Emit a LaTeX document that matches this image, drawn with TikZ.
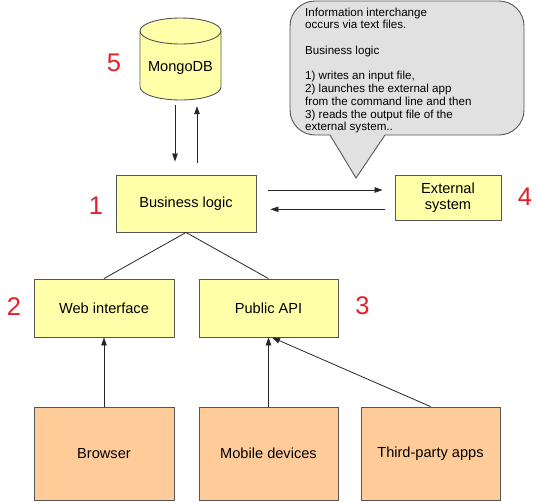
\documentclass[tikz,border=0pt]{standalone}
\usepackage{fontspec}
\setmainfont{Liberation Sans}
\usetikzlibrary{arrows.meta}
\definecolor{boxyellow}{HTML}{FFFFAA}
\definecolor{boxorange}{HTML}{FFCC99}
\definecolor{bubblegray}{HTML}{E1E1E1}
\definecolor{edgegray}{HTML}{555555}
\definecolor{numred}{HTML}{E3202A}
\begin{document}
\begin{tikzpicture}[x=1pt,y=-1pt,
  ybox/.style={draw=edgegray, fill=boxyellow, line width=0.9pt, inner sep=0pt,
    font=\fontsize{14.6}{16}\selectfont, align=center},
  obox/.style={ybox, fill=boxorange},
  num/.style={text=numred, font=\fontsize{25.5}{25.5}\selectfont, inner sep=0pt},
  conn/.style={draw=black!85, line width=0.8pt},
  arr/.style={conn, -{Triangle[length=8pt,width=5.5pt]}}]
\useasboundingbox (0,0) rectangle (540,501);

% callout
\filldraw[draw=edgegray, fill=bubblegray, line width=0.9pt, rounded corners=25pt]
  (290,1) rectangle (524,135);
\fill[bubblegray] (330,134) -- (385,134) -- (356,178) -- cycle;
\draw[edgegray, line width=0.9pt] (330,135) -- (356,178) -- (385,135);
\node[anchor=north west, inner sep=0pt, align=left,
  font=\fontsize{11.6}{12.74}\selectfont] (note) at (305,7.6)
  {Information interchange\\occurs via text files.\\[12.74pt]Business logic\\[12.74pt]1) writes an input file,\\2) launches the external app\\from the command line and then\\3) reads the output file of the\\external system..};

% MongoDB cylinder
\filldraw[draw=edgegray, fill=boxyellow, line width=0.9pt]
  (140,31) -- (140,87) arc[start angle=180,end angle=360,x radius=40.5pt,y radius=13pt]
  -- (221,31) arc[start angle=0,end angle=180,x radius=40.5pt,y radius=13pt] -- cycle;
\draw[edgegray, line width=0.9pt]
  (140,31) arc[start angle=180,end angle=360,x radius=40.5pt,y radius=13pt];
\node[minimum width=81pt, minimum height=82pt, inner sep=0pt] (db) at (180.5,59) {};
\node[anchor=base, inner sep=0pt, font=\fontsize{14.6}{16}\selectfont] (dblabel) at (180.5,71) {MongoDB};

% boxes
\node[ybox, minimum width=140pt, minimum height=57pt] (bl) at (186,203.5) {Business logic};
\node[ybox, minimum width=106pt, minimum height=45pt] (ext) at (448,197.5) {External\\system};
\node[ybox, minimum width=140pt, minimum height=58pt] (web) at (104,308) {Web interface};
\node[ybox, minimum width=139pt, minimum height=58pt] (api) at (268.5,308) {Public API};
\node[obox, minimum width=140pt, minimum height=93pt] (browser) at (104,453.5) {Browser};
\node[obox, minimum width=139pt, minimum height=93pt] (mobile) at (268.5,453.5) {Mobile devices};
\node[obox, minimum width=139pt, minimum height=93pt] (third) at (430.5,453.5) {Third-party apps};

% numbers
\node[num] (n1) at (96,206) {1};
\node[num] (n2) at (14,307) {2};
\node[num] (n3) at (362.5,305.5) {3};
\node[num] (n4) at (525,196.5) {4};
\node[num] (n5) at (114,62.7) {5};

% connectors
\draw[arr] ([xshift=-5.5pt,yshift=-5pt]db.south) -- ([xshift=-11pt,yshift=13pt]bl.north);
\draw[arr] ([xshift=11pt,yshift=12pt]bl.north) -- ([xshift=16.5pt,yshift=-6pt]db.south);
\draw[arr] ([xshift=12pt,yshift=13.5pt]bl.east) -- ([xshift=-12pt,yshift=7.5pt]ext.west);
\draw[arr] ([xshift=-10pt,yshift=-11.8pt]ext.west) -- ([xshift=14pt,yshift=-5.8pt]bl.east);
\draw[conn] (bl.south) -- (web.north);
\draw[conn] (bl.south) -- (api.north);
\draw[arr] (browser.north) -- (web.south);
\draw[arr] (mobile.north) -- (api.south);
\draw[arr] (third.north) -- ([xshift=3.5pt]api.south);
\end{tikzpicture}
\end{document}
